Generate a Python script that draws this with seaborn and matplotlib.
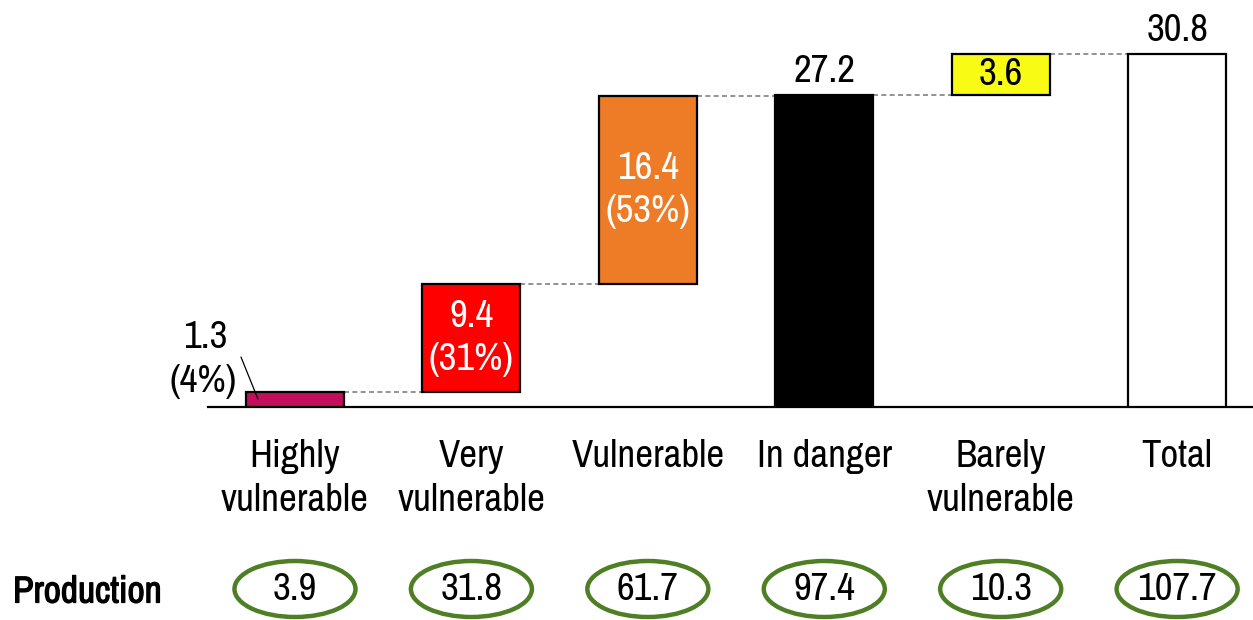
import matplotlib
matplotlib.use("Agg")
import matplotlib.pyplot as plt
from matplotlib import font_manager as fm
from matplotlib import patheffects
from matplotlib.patches import Ellipse
from matplotlib.transforms import blended_transform_factory
import seaborn as sns
import pandas as pd

# Vulnerability categories and their contributions
categories = ["Highly\nvulnerable", "Very\nvulnerable", "Vulnerable",
              "In danger", "Barely\nvulnerable", "Total"]
values = [1.3, 9.4, 16.4, 27.2, 3.6, 30.8]
bases = [0.0, 1.3, 10.7, 0.0, 27.2, 0.0]
shares = ["(4%)", "(31%)", "(53%)", "", "", ""]
production = ["3.9", "31.8", "61.7", "97.4", "10.3", "107.7"]
bar_colors = ["#C20E5B", "#FF0000", "#EE7B26", "#000000", "#F8FC14", "#FFFFFF"]

sns.set_theme(style="white")

# Prefer a narrow sans-serif face
installed = {f.name for f in fm.fontManager.ttflist}
narrow_choices = ["Liberation Sans Narrow", "Arial Narrow", "Archivo Narrow",
                  "Roboto Condensed", "PT Sans Narrow", "Pragati Narrow",
                  "Sofia Sans Condensed", "Asap Condensed", "Barlow Condensed"]
narrow = next((n for n in narrow_choices if n in installed), "DejaVu Sans")
plt.rcParams["font.family"] = [narrow, "DejaVu Sans"]
plt.rcParams["text.color"] = "black"

df = pd.DataFrame({"category": categories, "value": values})

fig = plt.figure(figsize=(12.53, 6.2), dpi=100)
ax = fig.add_axes([208 / 1253, (620 - 407) / 620, 1 - 208 / 1253, 367 / 620])

sns.barplot(data=df, x="category", y="value", order=categories, bottom=bases,
            width=0.556, color="white", edgecolor="black", linewidth=1.6, ax=ax)
for patch, c in zip(ax.patches, bar_colors):
    patch.set_facecolor(c)
    patch.set_zorder(3)

fs = 28
ax.set_xlim(-0.493, 5.43)
ax.set_ylim(0, 32.02)
for s in ["top", "right", "left"]:
    ax.spines[s].set_visible(False)
ax.spines["bottom"].set_color("black")
ax.spines["bottom"].set_linewidth(1.6)
ax.set_yticks([])
ax.set_xlabel("")
ax.set_ylabel("")
ax.tick_params(axis="x", length=0, labelsize=fs, pad=23, labelcolor="black")
ax.set_xticks(range(len(categories)))
ax.set_xticklabels(categories, linespacing=1.32)

# Dashed connectors between consecutive bars
hw = 0.556 / 2
tops = [b + v for b, v in zip(bases, values)]
for i in range(len(values) - 1):
    ax.plot([i + hw, i + 1 - hw], [tops[i], tops[i]], ls=(0, (3, 2)),
            color="#808080", lw=1.2, zorder=2)

# Value labels
ax.text(-0.51, 6.05, f"{values[0]}", ha="center", va="center", fontsize=fs)
ax.text(-0.52, 2.2, shares[0], ha="center", va="center", fontsize=fs)
ax.plot([-0.306, -0.21], [4.36, 0.7], color="black", lw=0.9, zorder=4)
for i in (1, 2):
    ax.text(i, bases[i] + values[i] / 2, f"{values[i]}\n{shares[i]}",
            ha="center", va="center", fontsize=fs, color="white",
            linespacing=1.28, zorder=5)
ax.text(3, tops[3] + 0.55, f"{values[3]}", ha="center", va="bottom",
        fontsize=fs)
ax.text(4, bases[4] + values[4] / 2, f"{values[4]}", ha="center",
        va="center", fontsize=fs, zorder=5)
ax.text(5, tops[5] + 0.55, f"{values[5]}", ha="center", va="bottom",
        fontsize=fs)

# Production row with circled values
trans = blended_transform_factory(ax.transData, ax.transAxes)
yc = (407 - 589) / 367
for i, p in enumerate(production):
    ell = Ellipse((i, yc), width=121 / 176.4, height=56 / 367, transform=trans,
                  facecolor="none", edgecolor="#4F7F25", lw=3.2, clip_on=False)
    ax.add_patch(ell)
    ax.text(i, yc, p, transform=trans, ha="center", va="center", fontsize=fs)
fig.text(13 / 1253, 1 - 592 / 620, "Production", ha="left", va="center",
         fontsize=27, fontweight="bold",
         path_effects=[patheffects.withStroke(linewidth=0.9, foreground="black")])

fig.savefig("out.png", dpi=100)
